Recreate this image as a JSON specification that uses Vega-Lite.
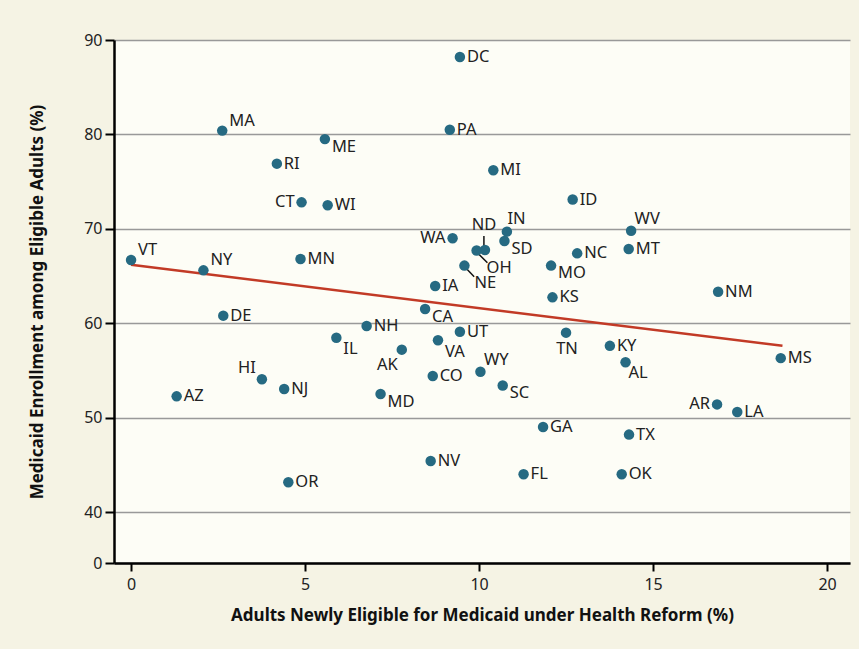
{
  "$schema": "https://vega.github.io/schema/vega-lite/v6.json",
  "autosize": "none",
  "width": 736,
  "height": 523,
  "padding": {"left": 114, "top": 40, "right": 9, "bottom": 86},
  "background": "#f5f3e4",
  "config": {
    "font": "Noto Sans",
    "view": {"fill": "#fdfdf6", "stroke": null},
    "axis": {
      "domainColor": "#000000", "domainWidth": 2.5,
      "tickColor": "#000000", "tickWidth": 2,
      "labelFont": "Noto Sans", "labelFontSize": 16, "labelColor": "#222222",
      "titleFont": "Noto Sans", "titleFontSize": 17, "titleFontWeight": "bold", "titleColor": "#111111"
    }
  },
  "datasets": {
    "states": [
      {"st": "MA", "x": 2.62, "y": 80.4}, {"st": "ME", "x": 5.57, "y": 79.5},
      {"st": "RI", "x": 4.19, "y": 76.9}, {"st": "CT", "x": 4.90, "y": 72.8},
      {"st": "WI", "x": 5.65, "y": 72.5}, {"st": "VT", "x": 0.0, "y": 66.7},
      {"st": "NY", "x": 2.08, "y": 65.6}, {"st": "MN", "x": 4.87, "y": 66.8},
      {"st": "DC", "x": 9.45, "y": 88.2}, {"st": "PA", "x": 9.16, "y": 80.5},
      {"st": "MI", "x": 10.41, "y": 76.2}, {"st": "ID", "x": 12.69, "y": 73.1},
      {"st": "IN", "x": 10.80, "y": 69.7}, {"st": "WA", "x": 9.24, "y": 69.0},
      {"st": "SD", "x": 10.73, "y": 68.7}, {"st": "ND", "x": 10.17, "y": 67.76},
      {"st": "OH", "x": 9.93, "y": 67.7}, {"st": "NE", "x": 9.58, "y": 66.1},
      {"st": "NC", "x": 12.82, "y": 67.4}, {"st": "MO", "x": 12.07, "y": 66.1},
      {"st": "WV", "x": 14.37, "y": 69.8}, {"st": "MT", "x": 14.30, "y": 67.86},
      {"st": "KS", "x": 12.11, "y": 62.74}, {"st": "IA", "x": 8.74, "y": 63.94},
      {"st": "CA", "x": 8.45, "y": 61.5}, {"st": "TN", "x": 12.50, "y": 59.0},
      {"st": "KY", "x": 13.76, "y": 57.6}, {"st": "AL", "x": 14.21, "y": 55.86},
      {"st": "UT", "x": 9.45, "y": 59.1}, {"st": "VA", "x": 8.82, "y": 58.2},
      {"st": "DE", "x": 2.65, "y": 60.8}, {"st": "IL", "x": 5.90, "y": 58.46},
      {"st": "HI", "x": 3.76, "y": 54.06}, {"st": "NJ", "x": 4.40, "y": 53.03},
      {"st": "AZ", "x": 1.31, "y": 52.25}, {"st": "OR", "x": 4.52, "y": 43.15},
      {"st": "NH", "x": 6.77, "y": 59.7}, {"st": "AK", "x": 7.78, "y": 57.2},
      {"st": "CO", "x": 8.67, "y": 54.4}, {"st": "MD", "x": 7.17, "y": 52.5},
      {"st": "WY", "x": 10.04, "y": 54.86}, {"st": "SC", "x": 10.68, "y": 53.4},
      {"st": "GA", "x": 11.84, "y": 49.0}, {"st": "NV", "x": 8.61, "y": 45.4},
      {"st": "FL", "x": 11.28, "y": 44.0}, {"st": "NM", "x": 16.87, "y": 63.34},
      {"st": "MS", "x": 18.67, "y": 56.3}, {"st": "AR", "x": 16.84, "y": 51.4},
      {"st": "LA", "x": 17.42, "y": 50.6}, {"st": "TX", "x": 14.31, "y": 48.2},
      {"st": "OK", "x": 14.10, "y": 44.0}
    ],
    "fit": [{"x": 0, "y": 66.2}, {"x": 18.72, "y": 57.6}],
    "leaders": [
      {"st": "ND", "x": 10.14, "y": 69.24, "x2": 10.14, "y2": 68.10},
      {"st": "OH", "x": 9.95, "y": 67.47, "x2": 10.24, "y2": 66.41},
      {"st": "NE", "x": 9.60, "y": 65.92, "x2": 9.86, "y2": 64.93}
    ]
  },
  "encoding": {
    "x": {"field": "x", "type": "quantitative",
      "scale": {"domain": [-0.49, 20.66], "nice": false, "zero": false},
      "axis": {"values": [0, 5, 10, 15, 20], "grid": false, "tickSize": 8, "labelPadding": 5,
        "title": "Adults Newly Eligible for Medicaid under Health Reform (%)", "titlePadding": 15}},
    "y": {"field": "y", "type": "quantitative",
      "scale": {"domain": [0, 40, 90], "range": [523, 472, 0], "nice": false, "zero": false},
      "axis": {"values": [0, 40, 50, 60, 70, 80, 90], "grid": true, "gridColor": "#999999", "gridWidth": 1.3,
        "tickSize": 9, "labelPadding": 3,
        "title": "Medicaid Enrollment among Eligible Adults (%)", "titlePadding": 37}}
  },
  "layer": [
    {"data": {"name": "fit"}, "mark": {"type": "line", "color": "#c23a26", "strokeWidth": 2.5}},
    {"data": {"name": "leaders"}, "mark": {"type": "rule", "color": "#111111", "strokeWidth": 1.5},
      "encoding": {"x2": {"field": "x2"}, "y2": {"field": "y2"}}},
    {"data": {"name": "states"}, "mark": {"type": "circle", "size": 110, "opacity": 1, "color": "#266a82"}},
    {"data": {"name": "states"},
      "transform": [{"filter": {"field": "st", "oneOf": ["RI","WI","MN","DC","PA","MI","ID","NC","KS","MT","NM","MS","LA","TX","OK","GA","FL","NV","CO","UT","IA","DE","NJ","AZ","OR","NH","KY"]}}],
      "mark": {"type": "text", "align": "left", "baseline": "middle", "dx": 7, "dy": 0, "fontSize": 16.5, "color": "#222222"},
      "encoding": {"text": {"field": "st"}}},
    {"data": {"name": "states"},
      "transform": [{"filter": {"field": "st", "oneOf": ["ME","CA","MD","SC","SD","MO"]}}],
      "mark": {"type": "text", "align": "left", "baseline": "middle", "dx": 7, "dy": 7.5, "fontSize": 16.5, "color": "#222222"},
      "encoding": {"text": {"field": "st"}}},
    {"data": {"name": "states"},
      "transform": [{"filter": {"field": "st", "oneOf": ["IL","VA"]}}],
      "mark": {"type": "text", "align": "left", "baseline": "middle", "dx": 7, "dy": 11.5, "fontSize": 16.5, "color": "#222222"},
      "encoding": {"text": {"field": "st"}}},
    {"data": {"name": "states"},
      "transform": [{"filter": {"field": "st", "oneOf": ["AL"]}}],
      "mark": {"type": "text", "align": "left", "baseline": "middle", "dx": 3, "dy": 11, "fontSize": 16.5, "color": "#222222"},
      "encoding": {"text": {"field": "st"}}},
    {"data": {"name": "states"},
      "transform": [{"filter": {"field": "st", "oneOf": ["MA","VT","NY"]}}],
      "mark": {"type": "text", "align": "left", "baseline": "middle", "dx": 7, "dy": -10, "fontSize": 16.5, "color": "#222222"},
      "encoding": {"text": {"field": "st"}}},
    {"data": {"name": "states"},
      "transform": [{"filter": {"field": "st", "oneOf": ["WY","WV"]}}],
      "mark": {"type": "text", "align": "left", "baseline": "middle", "dx": 3.5, "dy": -12, "fontSize": 16.5, "color": "#222222"},
      "encoding": {"text": {"field": "st"}}},
    {"data": {"name": "states"},
      "transform": [{"filter": {"field": "st", "oneOf": ["IN"]}}],
      "mark": {"type": "text", "align": "left", "baseline": "middle", "dx": 0.5, "dy": -12.5, "fontSize": 16.5, "color": "#222222"},
      "encoding": {"text": {"field": "st"}}},
    {"data": {"name": "states"},
      "transform": [{"filter": {"field": "st", "oneOf": ["CT","WA","AR"]}}],
      "mark": {"type": "text", "align": "right", "baseline": "middle", "dx": -7, "dy": 0, "fontSize": 16.5, "color": "#222222"},
      "encoding": {"text": {"field": "st"}}},
    {"data": {"name": "states"},
      "transform": [{"filter": {"field": "st", "oneOf": ["HI"]}}],
      "mark": {"type": "text", "align": "right", "baseline": "middle", "dx": -6, "dy": -11, "fontSize": 16.5, "color": "#222222"},
      "encoding": {"text": {"field": "st"}}},
    {"data": {"name": "states"},
      "transform": [{"filter": {"field": "st", "oneOf": ["AK"]}}],
      "mark": {"type": "text", "align": "right", "baseline": "middle", "dx": -4, "dy": 15, "fontSize": 16.5, "color": "#222222"},
      "encoding": {"text": {"field": "st"}}},
    {"data": {"name": "states"},
      "transform": [{"filter": {"field": "st", "oneOf": ["TN"]}}],
      "mark": {"type": "text", "align": "center", "baseline": "middle", "dx": 1, "dy": 16, "fontSize": 16.5, "color": "#222222"},
      "encoding": {"text": {"field": "st"}}},
    {"data": {"name": "states"},
      "transform": [{"filter": {"field": "st", "oneOf": ["ND"]}}],
      "mark": {"type": "text", "align": "center", "baseline": "middle", "dx": -1, "dy": -25, "fontSize": 16.5, "color": "#222222"},
      "encoding": {"text": {"field": "st"}}},
    {"data": {"name": "states"},
      "transform": [{"filter": {"field": "st", "oneOf": ["OH","NE"]}}],
      "mark": {"type": "text", "align": "left", "baseline": "middle", "dx": 10, "dy": 17.5, "fontSize": 16.5, "color": "#222222"},
      "encoding": {"text": {"field": "st"}}},
    {"mark": {"type": "rule", "color": "#fdfdf6", "strokeWidth": 3.5},
      "encoding": {"x": {"datum": -0.704}, "y": {"datum": 9.41}, "x2": {"datum": -0.302}, "y2": {"datum": 22.35}}},
    {"mark": {"type": "rule", "color": "#111111", "strokeWidth": 1.2},
      "encoding": {"x": {"datum": -0.743}, "y": {"datum": 10.32}, "x2": {"datum": -0.341}, "y2": {"datum": 23.26}}},
    {"mark": {"type": "rule", "color": "#111111", "strokeWidth": 1.2},
      "encoding": {"x": {"datum": -0.665}, "y": {"datum": 8.50}, "x2": {"datum": -0.263}, "y2": {"datum": 21.44}}}
  ]
}
